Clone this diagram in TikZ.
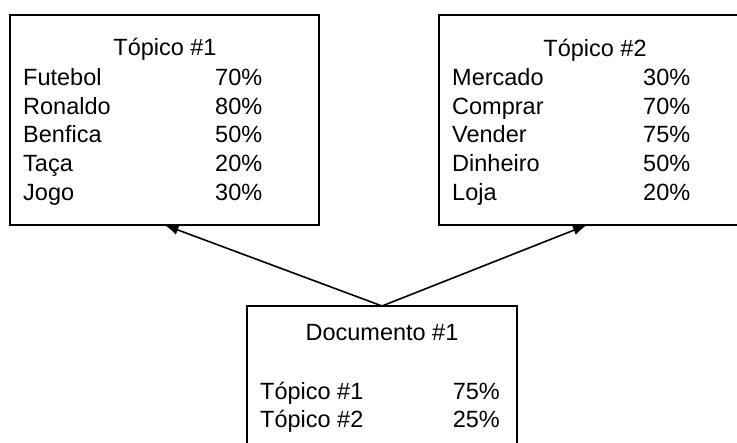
\documentclass[tikz,border=0pt]{standalone}
\usepackage{fontspec}
\setmainfont{Liberation Sans}
\usetikzlibrary{arrows.meta}
\usetikzlibrary{calc}

\begin{document}
\begin{tikzpicture}[x=1pt,y=-1pt,
caixa/.style={draw, line width=2pt, inner sep=0pt, outer sep=0pt},
txt/.style={inner sep=0pt, anchor=base west, font=\fontsize{23.5}{29}\selectfont},
titulo/.style={txt, anchor=base},
seta/.style={-{Latex[length=14pt,width=10pt]}, line width=1.6pt}]
\useasboundingbox (0,0) rectangle (737,443);
\clip (0,0) rectangle (737,443);
\node[caixa, minimum width=309pt, minimum height=210pt] (topico1) at (164.5,120) {};
\node[caixa, minimum width=310pt, minimum height=210pt] (topico2) at (594,120) {};
\node[caixa, minimum width=270pt, minimum height=154pt] (doc) at (382,383) {};
\node[titulo] (tit1) at (165,56) {Tópico \#1};
\node[txt] (p1a) at (23,86) {Futebol}; \node[txt] (v1a) at (215,86) {70\%};
\node[txt] (p1b) at (23,115) {Ronaldo}; \node[txt] (v1b) at (215,115) {80\%};
\node[txt] (p1c) at (23,143) {Benfica}; \node[txt] (v1c) at (215,143) {50\%};
\node[txt] (p1d) at (23,172) {Taça}; \node[txt] (v1d) at (215,172) {20\%};
\node[txt] (p1e) at (23,201) {Jogo}; \node[txt] (v1e) at (215,201) {30\%};
\node[titulo] (tit2) at (595,57) {Tópico \#2};
\node[txt] (p2a) at (452,86) {Mercado}; \node[txt] (v2a) at (643,86) {30\%};
\node[txt] (p2b) at (452,115) {Comprar}; \node[txt] (v2b) at (643,115) {70\%};
\node[txt] (p2c) at (452,143) {Vender}; \node[txt] (v2c) at (643,143) {75\%};
\node[txt] (p2d) at (452,172) {Dinheiro}; \node[txt] (v2d) at (643,172) {50\%};
\node[txt] (p2e) at (452,201) {Loja}; \node[txt] (v2e) at (643,201) {20\%};
\node[titulo] (titdoc) at (382,341) {Documento \#1};
\node[txt] (d1) at (260,400) {Tópico \#1}; \node[txt, anchor=base east] (w1) at (500,400) {75\%};
\node[txt] (d2) at (260,428) {Tópico \#2}; \node[txt, anchor=base east] (w2) at (500,428) {25\%};
\draw[seta] (doc.north) -- (topico1.south);
\draw[seta] (doc.north) -- ($(topico2.south)+(-7,0)$);
\end{tikzpicture}
\end{document}
